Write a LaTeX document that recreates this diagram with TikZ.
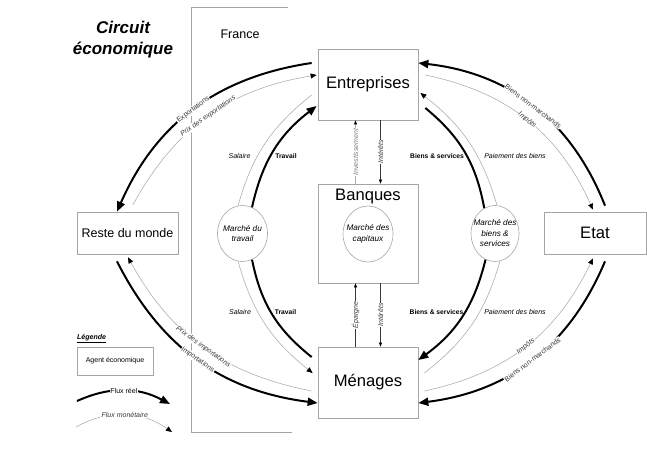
\documentclass[tikz,border=0pt]{standalone}
\usepackage{fontspec}
\setmainfont{Liberation Sans}
\usetikzlibrary{arrows.meta,shapes.geometric,calc}
\definecolor{lgray}{RGB}{175,175,175}
\definecolor{bgray}{RGB}{165,165,165}
\definecolor{tgray}{RGB}{55,55,55}
\tikzset{
  agent/.style={draw=bgray, line width=0.7pt, minimum width=100pt, minimum height=71pt, inner sep=0pt, font=\fontsize{16.6}{18}\selectfont},
  smallagent/.style={draw=bgray, line width=0.7pt, minimum width=101pt, minimum height=42pt, inner sep=0pt},
  market/.style={draw=bgray, line width=0.6pt, ellipse, minimum width=50pt, minimum height=56pt, inner sep=0pt},
  mtext/.style={font=\fontsize{8.2}{10.5}\selectfont\itshape, align=center},
  real/.style={line width=2pt, -{Triangle[length=10pt,width=8pt]}},
  realplain/.style={line width=2pt},
  money/.style={draw=lgray, line width=0.6pt, -{Triangle[length=6pt,width=5pt,color=black]}},
  moneyplain/.style={draw=lgray, line width=0.6pt},
  rlab/.style={font=\fontsize{7}{8}\selectfont, text=tgray, fill=white, inner sep=0.6pt, pos=0.5},
  mlab/.style={font=\fontsize{7}{8}\selectfont\itshape, text=tgray, fill=white, inner sep=0.6pt, pos=0.5},
  vflow/.style={draw=tgray, line width=0.5pt, -{Triangle[length=4pt,width=3pt,color=black]}},
  vlab/.style={font=\fontsize{7}{8}\selectfont\itshape, text=tgray, fill=white, inner sep=0.6pt, rotate=90},
  reallab/.style={font=\fontsize{6.7}{8}\selectfont\bfseries},
  moneylab/.style={font=\fontsize{7}{8}\selectfont\itshape},
}
\begin{document}
\begin{tikzpicture}[x=1pt,y=-1pt]
\useasboundingbox (0,0) rectangle (647,452);
% France frame
\draw[bgray, line width=0.8pt] (288,7) -- (191,7) -- (191,432) -- (292,432);
\node[font=\fontsize{17}{21}\selectfont\bfseries\itshape, align=center] (title) at (123,40) {Circuit\\économique};
\node[font=\fontsize{12.5}{14}\selectfont] (fr) at (240,34) {France};

% agents
\node[agent] (ent) at (368,84.5) {Entreprises};
\node[agent, minimum height=99pt] (ban) at (368,233.5) {};
\node[font=\fontsize{16.6}{18}\selectfont] (bant) at (368,197) {Banques};
\node[agent] (men) at (368,382.5) {Ménages};
\node[smallagent, minimum width=102pt, font=\fontsize{16.6}{18}\selectfont] (eta) at (595,233) {Etat};
\node[smallagent, font=\fontsize{12.5}{14}\selectfont] (rdm) at (127.5,233) {Reste du monde};

% markets
\node[market, label={[mtext]center:Marché du\\travail}] (mt) at (242.5,233.5) {};
\node[market, label={[mtext]center:Marché des\\capitaux}] (mc) at (368,234) {};
\node[market, minimum width=48pt, label={[mtext]center:Marché des\\biens \&\\services}] (mb) at (495,233.5) {};

% outer flows: Reste du monde
\draw[real] ([shift={(-6,-21.5)}]ent.west) to[bend right=29] node[rlab, rotate=37]{Exportations} ([shift={(-10.5,0)}]rdm.north);
\draw[money] ([shift={(5.5,-7)}]rdm.north) to[bend left=26] node[mlab, rotate=35]{Prix des exportations} ([shift={(-1,-9.5)}]ent.west);
\draw[real] ([shift={(-10.5,7)}]rdm.south) to[bend right=28] node[rlab, rotate=-35]{Importations} ([shift={(0,20.5)}]men.west);
\draw[money] ([shift={(-6,8.5)}]men.west) to[bend left=25] node[mlab, rotate=-36]{Prix des importations} ([shift={(0.5,3)}]rdm.south);

% outer flows: Etat
\draw[real] ([shift={(10,-6)}]eta.north) to[bend right=31] node[rlab, rotate=-37]{Biens non-marchands} ([shift={(0,-21.5)}]ent.east);
\draw[money] ([shift={(7,-9.5)}]ent.east) to[bend left=27] node[mlab, rotate=-39]{Impôts} ([shift={(-2,-2)}]eta.north);
\draw[money] ([shift={(6,8.5)}]men.east) to[bend right=26] node[mlab, rotate=38]{Impôts} ([shift={(-2,4)}]eta.south);
\draw[real] ([shift={(10,7)}]eta.south) to[bend left=30] node[rlab, rotate=37]{Biens non-marchands} ([shift={(0,20.5)}]men.east);

% inner flows: labour market
\draw[real] (mt.70) to[bend left=20] ([shift={(-1,21.5)}]ent.west);
\draw[moneyplain] ([shift={(-6,10.5)}]ent.west) to[bend right=18] (mt.99);
\draw[money] (mt.-99) to[bend right=18] ([shift={(-5,-9.5)}]men.west);
\draw[realplain] ([shift={(-6,-25.5)}]men.west) to[bend left=20] (mt.-70);

% inner flows: goods market
\draw[realplain] ([shift={(7,23.5)}]ent.east) to[bend left=20] (mb.113);
\draw[money] (mb.86) to[bend right=18] ([shift={(2,8.5)}]ent.east);
\draw[real] (mb.-110) to[bend left=20] ([shift={(0,-22.5)}]men.east);
\draw[moneyplain] ([shift={(6,-9.5)}]men.east) to[bend right=18] (mb.-80);

% inner labels
\node[moneylab] (sal1) at (239.5,156) {Salaire};
\node[reallab] (tra1) at (286,156) {Travail};
\node[moneylab] (sal2) at (240,312) {Salaire};
\node[reallab] (tra2) at (285.5,312) {Travail};
\node[reallab] (bs1) at (437,156) {Biens \& services};
\node[moneylab] (pb1) at (515,156) {Paiement des biens};
\node[reallab] (bs2) at (436.5,312) {Biens \& services};
\node[moneylab] (pb2) at (515,312) {Paiement des biens};

% banks
\draw[vflow, draw=lgray] ([xshift=-12.5pt]ban.north) -- node[vlab, text=gray]{Investissement} ([xshift=-12.5pt]ent.south);
\draw[vflow] ([xshift=12.5pt]ent.south) -- node[vlab]{Intérêts} ([xshift=12.5pt]ban.north);
\draw[vflow] ([xshift=-12.5pt]men.north) -- node[vlab]{Épargne} ([xshift=-12.5pt]ban.south);
\draw[vflow] ([xshift=12.5pt]ban.south) -- node[vlab]{Intérêts} ([xshift=12.5pt]men.north);

% legend
\node[font=\fontsize{7}{8}\selectfont\bfseries\itshape, anchor=west, inner sep=0pt] (leg) at (77,339) {\underline{Légende}};
\node[draw=bgray, line width=0.7pt, minimum width=76pt, minimum height=28pt, inner sep=0pt, font=\fontsize{7}{8}\selectfont] (lag) at (115,361) {Agent économique};
\coordinate (lr1) at (77,401);
\coordinate (lr2) at (170,404);
\coordinate (lm1) at (76,427);
\coordinate (lm2) at (172,432);
\draw[real] (lr1) to[bend left=26] node[rlab, text=black]{Flux réel} (lr2);
\draw[money] (lm1) to[bend left=32] node[mlab]{Flux monétaire} (lm2);
\end{tikzpicture}
\end{document}
